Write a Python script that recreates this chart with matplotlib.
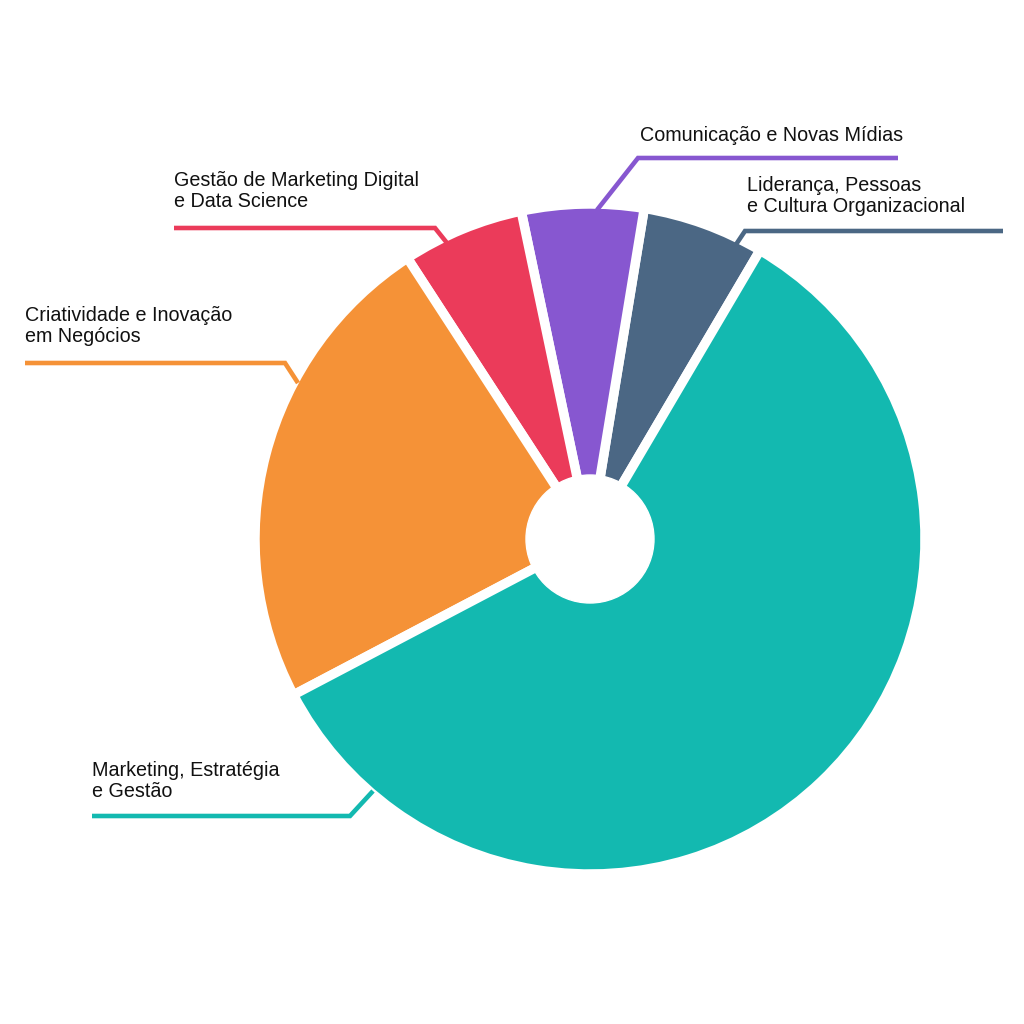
import matplotlib.pyplot as plt
from matplotlib.patches import Circle

# slice data, counter-clockwise from the teal/slate boundary
labels = ["Liderança, Pessoas\ne Cultura Organizacional",
          "Comunicação e Novas Mídias",
          "Gestão de Marketing Digital\ne Data Science",
          "Criatividade e Inovação\nem Negócios",
          "Marketing, Estratégia\ne Gestão"]
values = [1, 1, 1, 4, 10]
colors = ["#4B6784", "#8757D0", "#EB3B5A", "#F59237", "#13B9B0"]

H = 1024  # canvas height in px, used to flip y


def py(y):
    return H - y


# layout of labels (baseline of last line) and leader lines, px from top
text_pos = [(747, 212), (640, 141), (174, 207), (25, 342), (92, 797)]
leaders = [
    [(1003, 231), (745, 231), (735, 246)],
    [(898, 158), (638, 158), (597, 210)],
    [(174, 228), (435, 228), (447, 243)],
    [(25, 363), (285, 363), (298, 383)],
    [(92, 816), (350, 816), (373, 791)],
]

fig = plt.figure(figsize=(10.24, 10.24), dpi=100)
ax = fig.add_axes([0, 0, 1, 1])

cx, cy = 590, py(539)
ax.pie(values, colors=colors, startangle=59.5, counterclock=True,
       center=(cx, cy), radius=335,
       wedgeprops=dict(edgecolor="white", linewidth=6.8))
ax.add_patch(Circle((cx, cy), 64, color="white", zorder=3))

for pts, col in zip(leaders, colors):
    xs = [p[0] for p in pts]
    ys = [py(p[1]) for p in pts]
    ax.plot(xs, ys, color=col, lw=3.3, solid_capstyle="butt",
            solid_joinstyle="miter", zorder=4)

for (x, y), lab in zip(text_pos, labels):
    ax.text(x, py(y), lab, fontsize=14.2, family="Liberation Sans",
            color="#111111", ha="left", va="baseline", linespacing=1.16)

ax.set_xlim(0, 1024)
ax.set_ylim(0, 1024)
ax.set_aspect("equal")
ax.axis("off")

fig.savefig("out.png", dpi=100, facecolor="white")
